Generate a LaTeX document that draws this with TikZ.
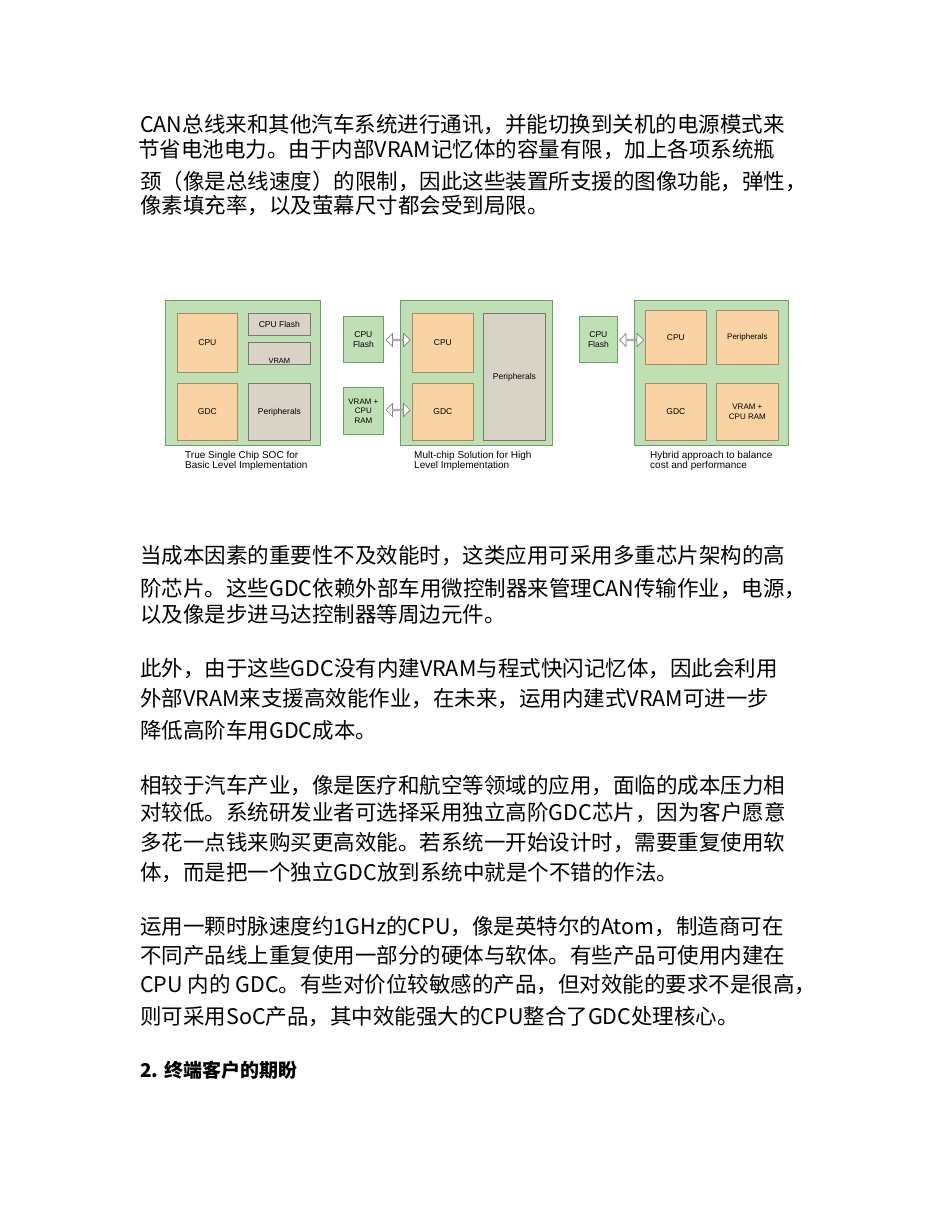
\documentclass[tikz,border=0pt]{standalone}
\usepackage{fontspec}
\setmainfont{Liberation Sans}
\newfontfamily\cjk{Noto Sans CJK SC}
\usetikzlibrary{arrows.meta,shapes.arrows}
\definecolor{gfill}{HTML}{BFE0B4}
\definecolor{gline}{HTML}{6E9E64}
\definecolor{ofill}{HTML}{F9D3A4}
\definecolor{oline}{HTML}{A98A66}
\definecolor{pfill}{HTML}{D9D2C6}
\definecolor{pline}{HTML}{7C766C}
\tikzset{
 txt/.style={anchor=west,inner sep=0pt,font=\cjk\fontsize{21.5}{24}\selectfont},
 outer/.style={draw=gline,fill=gfill,line width=0.8pt},
 chip/.style={draw=gline,fill=gfill,line width=0.8pt},
 core/.style={draw=oline,fill=ofill,line width=0.8pt},
 per/.style={draw=pline,fill=pfill,line width=0.8pt},
 lab/.style={align=center,font=\fontsize{8.5}{9.5}\selectfont},
 captxt/.style={align=left,font=\fontsize{10}{9}\selectfont,inner sep=0pt,anchor=north west},
 dbl/.style={double arrow,draw=gray,fill=white,line width=0.7pt,minimum height=24pt,minimum width=13pt,inner sep=0pt,double arrow head extend=3pt,double arrow head indent=0pt},
}
\newcommand\bx[6]{\node[#1,minimum width=#4-#2,minimum height=#5-#3,anchor=north west,inner sep=0pt] (#6) at (#2,#3) {};}
\begin{document}
\begin{tikzpicture}[x=1pt,y=-1pt]
\useasboundingbox[fill=white] (0,0) rectangle (950,1230);
\node[txt] (l1) at (140,125) {CAN总线来和其他汽车系统进行通讯，并能切换到关机的电源模式来};
\node[txt] (l2) at (138,150) {节省电池电力。由于内部VRAM记忆体的容量有限，加上各项系统瓶};
\node[txt] (l3) at (140,181) {颈（像是总线速度）的限制，因此这些装置所支援的图像功能，弹性，};
\node[txt] (l4) at (140,206) {像素填充率，以及萤幕尺寸都会受到局限。};
% diagram
\bx{outer}{165}{300}{320}{445}{o1}
\bx{core}{177}{313}{237}{372}{c1}\node[lab] at (c1) {CPU};
\bx{per}{248}{313}{310}{335}{f1}\node[lab] at (f1) {CPU Flash};
\bx{per}{248}{342}{310}{364}{v1}\node[lab,font=\fontsize{7.5}{8}\selectfont] at ([yshift=-8pt]v1.center) {VRAM};
\bx{core}{177}{383}{237}{440}{g1}\node[lab] at (g1) {GDC};
\bx{per}{248}{383}{310}{440}{p1}\node[lab] at (p1) {Peripherals};
\node[captxt] (t1) at (185,451) {True Single Chip SOC for\\Basic Level Implementation};
%
\bx{chip}{343}{316}{383}{362}{f2}\node[lab] at (f2) {CPU\\Flash};
\bx{chip}{343}{387}{383}{434}{v2}\node[lab,font=\fontsize{8}{9.5}\selectfont] at (v2) {VRAM +\\CPU\\RAM};
\bx{outer}{400}{300}{552}{445}{o2}
\bx{core}{412}{313}{473}{372}{c2}\node[lab] at (c2) {CPU};
\bx{core}{412}{383}{473}{440}{g2}\node[lab] at (g2) {GDC};
\bx{per}{483}{313}{545}{440}{p2}\node[lab] at (p2) {Peripherals};
\coordinate (a1) at (385,340); \coordinate (a2) at (411,340);
\coordinate (a3) at (385,410); \coordinate (a4) at (411,410);
\path (a1) -- node[dbl] (d1) {} (a2);
\path (a3) -- node[dbl] (d2) {} (a4);
\node[captxt] (t2) at (414,451) {Mult-chip Solution for High\\Level Implementation};
%
\bx{chip}{579}{316}{617}{362}{f3}\node[lab] at (f3) {CPU\\Flash};
\bx{outer}{634}{300}{788}{445}{o3}
\bx{core}{645}{310}{706}{364}{c3}\node[lab] at (c3) {CPU};
\bx{core}{716}{310}{778}{364}{p3}\node[lab,font=\fontsize{8}{9}\selectfont] at (p3) {Peripherals};
\bx{core}{645}{383}{706}{440}{g3}\node[lab] at (g3) {GDC};
\bx{core}{716}{383}{778}{440}{v3}\node[lab,font=\fontsize{8}{10}\selectfont] at (v3) {VRAM +\\CPU RAM};
\coordinate (a5) at (618,340); \coordinate (a6) at (645,340);
\path (a5) -- node[dbl] (d3) {} (a6);
\node[captxt] (t3) at (650,451) {Hybrid approach to balance\\cost and performance};
% body
\node[txt] (m1) at (140,556) {当成本因素的重要性不及效能时，这类应用可采用多重芯片架构的高};
\node[txt] (m2) at (140,589) {阶芯片。这些GDC依赖外部车用微控制器来管理CAN传输作业，电源，};
\node[txt] (m3) at (140,614) {以及像是步进马达控制器等周边元件。};
\node[txt] (n1) at (140,669) {此外，由于这些GDC没有内建VRAM与程式快闪记忆体，因此会利用};
\node[txt] (n2) at (140,699) {外部VRAM来支援高效能作业，在未来，运用内建式VRAM可进一步};
\node[txt] (n3) at (140,730) {降低高阶车用GDC成本。};
\node[txt] (q1) at (140,785) {相较于汽车产业，像是医疗和航空等领域的应用，面临的成本压力相};
\node[txt] (q2) at (140,813) {对较低。系统研发业者可选择采用独立高阶GDC芯片，因为客户愿意};
\node[txt] (q3) at (140,843) {多花一点钱来购买更高效能。若系统一开始设计时，需要重复使用软};
\node[txt] (q4) at (140,873) {体，而是把一个独立GDC放到系统中就是个不错的作法。};
\node[txt] (r1) at (140,927) {运用一颗时脉速度约1GHz的CPU，像是英特尔的Atom，制造商可在};
\node[txt] (r2) at (140,955) {不同产品线上重复使用一部分的硬体与软体。有些产品可使用内建在};
\node[txt] (r3) at (140,985) {CPU 内的 GDC。有些对价位较敏感的产品，但对效能的要求不是很高，};
\node[txt] (r4) at (140,1017) {则可采用SoC产品，其中效能强大的CPU整合了GDC处理核心。};
\node[txt,font=\cjk\bfseries\fontsize{19}{22}\selectfont] (h2) at (140,1070) {2. 终端客户的期盼};
\end{tikzpicture}
\end{document}
